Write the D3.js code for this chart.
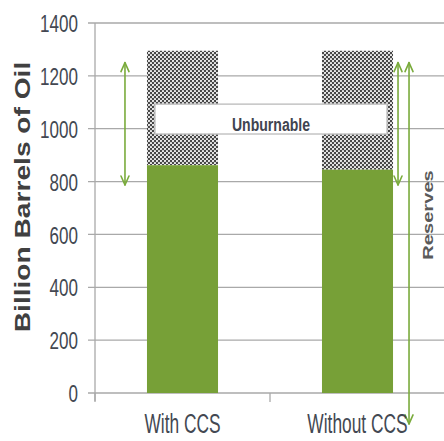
<!DOCTYPE html>
<html>
<head>
<meta charset="utf-8">
<script src="https://cdn.jsdelivr.net/npm/d3@7"></script>
<style>
  html, body { margin: 0; padding: 0; background: #fff; }
  svg { display: block; }
  text { font-family: "Liberation Sans", Arial, sans-serif; }
</style>
</head>
<body>
<svg id="chart" width="444" height="441"></svg>
<script>
// Oil reserves: burnable share vs unburnable share (billion barrels)
const categories = ["With CCS", "Without CCS"];
const burnable = [862, 845];
const totalReserves = [1295, 1295];
const yTicks = [0, 200, 400, 600, 800, 1000, 1200, 1400];
const yTitle = "Billion Barrels of Oil";
const boxLabel = "Unburnable";
const boxRange = [980, 1093];          // value span covered by the label box
const unburnableArrow = [787, 1250];   // left and right double arrows
const reservesArrow = [-117, 1250];    // long double arrow for total reserves
const reservesLabel = "Reserves";

const svg = d3.select("#chart");
const W = 444;
const plot = { left: 95, right: 445, top: 23, bottom: 393 };

const y = d3.scaleLinear().domain([0, 1400]).range([plot.bottom, plot.top]);
const x = d3.scaleBand().domain(categories)
  .range([plot.left, plot.right])
  .paddingInner(0.594).paddingOuter(0.297);

const GREEN = "#77a037";
const ARROW = "#7aab3c";
const GRID = "#a9a9a9";
const TEXT = "#434852";

// Dotted fill for the unburnable portion
const defs = svg.append("defs");
const pat = defs.append("pattern").attr("id", "dots")
  .attr("width", 4).attr("height", 4).attr("patternUnits", "userSpaceOnUse");
pat.append("rect").attr("width", 4).attr("height", 4).attr("fill", "#464646");
pat.append("circle").attr("cx", 1).attr("cy", 1).attr("r", 1.1).attr("fill", "#f4f4f4");
pat.append("circle").attr("cx", 3).attr("cy", 3).attr("r", 1.1).attr("fill", "#f4f4f4");

// Gridlines (drawn from the left tick stub out to the edge)
svg.append("g").selectAll("line").data(yTicks).join("line")
  .attr("x1", plot.left - 7).attr("x2", W)
  .attr("y1", d => y(d)).attr("y2", d => y(d))
  .attr("stroke", GRID).attr("stroke-width", 1.3);

// Y axis line
svg.append("line")
  .attr("x1", plot.left).attr("x2", plot.left)
  .attr("y1", y(1400)).attr("y2", y(0) + 8)
  .attr("stroke", GRID).attr("stroke-width", 1.3);

// Category separator ticks below the baseline
const step = x.step();
svg.append("g").selectAll("line").data(d3.range(categories.length + 1)).join("line")
  .attr("x1", i => plot.left + i * step).attr("x2", i => plot.left + i * step)
  .attr("y1", y(0)).attr("y2", y(0) + 9)
  .attr("stroke", GRID).attr("stroke-width", 1.3);

// Y tick labels via axis
const yAxis = svg.append("g")
  .attr("transform", `translate(${plot.left},0)`)
  .call(d3.axisLeft(y).tickValues(yTicks).tickSize(0).tickFormat(d3.format("d")));
yAxis.select(".domain").remove();
yAxis.selectAll("text")
  .attr("x", 0)
  .attr("dy", "0.35em")
  .attr("transform", "translate(-17,0) scale(0.69,1)")
  .attr("font-family", "'Liberation Sans', Arial, sans-serif")
  .attr("font-size", 24.7)
  .attr("fill", TEXT);

// Bars: burnable (green) and unburnable (dotted)
const bars = svg.append("g");
bars.selectAll("rect.unburn").data(categories).join("rect")
  .attr("class", "unburn")
  .attr("x", d => x(d)).attr("width", x.bandwidth())
  .attr("y", (d, i) => y(totalReserves[i]))
  .attr("height", (d, i) => y(burnable[i]) - y(totalReserves[i]))
  .attr("fill", "url(#dots)");
bars.selectAll("rect.burn").data(categories).join("rect")
  .attr("class", "burn")
  .attr("x", d => x(d)).attr("width", x.bandwidth())
  .attr("y", (d, i) => y(burnable[i]))
  .attr("height", (d, i) => y(0) - y(burnable[i]))
  .attr("fill", GREEN);

// Label box spanning both bars
const bx0 = x(categories[0]) + 8;
const bx1 = x(categories[1]) + x.bandwidth() - 6;
svg.append("rect")
  .attr("x", bx0).attr("width", bx1 - bx0)
  .attr("y", y(boxRange[1])).attr("height", y(boxRange[0]) - y(boxRange[1]))
  .attr("fill", "#fff").attr("stroke", "#c4c4c4").attr("stroke-width", 1.5);
svg.append("text")
  .attr("transform", `translate(${(bx0 + bx1) / 2},${y(boxRange[0]) - 3}) scale(0.76,1)`)
  .attr("text-anchor", "middle")
  .attr("font-size", 18.5).attr("font-weight", "bold")
  .attr("fill", "#3f4450")
  .text(boxLabel);

// Double-headed arrows
function doubleArrow(xPos, v0, v1) {
  const g = svg.append("g").attr("stroke", ARROW).attr("stroke-width", 1.6)
    .attr("fill", "none").attr("stroke-linecap", "round").attr("stroke-linejoin", "round");
  const yt = y(v1), yb = y(v0);
  g.append("line").attr("x1", xPos).attr("x2", xPos).attr("y1", yt).attr("y2", yb);
  g.append("polyline").attr("points", [[xPos - 4, yt + 9], [xPos, yt], [xPos + 4, yt + 9]].join(" "));
  g.append("polyline").attr("points", [[xPos - 4, yb - 9], [xPos, yb], [xPos + 4, yb - 9]].join(" "));
}
doubleArrow(x(categories[0]) - 22, unburnableArrow[0], unburnableArrow[1]);
doubleArrow(x(categories[1]) + x.bandwidth() + 5, unburnableArrow[0], unburnableArrow[1]);
doubleArrow(x(categories[1]) + x.bandwidth() + 16, reservesArrow[0], reservesArrow[1]);

// Category labels
svg.append("g").selectAll("text").data(categories).join("text")
  .attr("transform", d => `translate(${x(d) + x.bandwidth() / 2},433) scale(0.62,1)`)
  .attr("text-anchor", "middle")
  .attr("font-size", 28)
  .attr("fill", TEXT)
  .text(d => d);

// Axis title
svg.append("text")
  .attr("transform", "translate(30,197) rotate(-90) scale(1.28,1)")
  .attr("text-anchor", "middle")
  .attr("font-size", 22).attr("font-weight", "bold")
  .attr("fill", "#404040")
  .text(yTitle);

// Reserves label
svg.append("text")
  .attr("transform", "translate(433,215) rotate(-90) scale(1.44,1)")
  .attr("text-anchor", "middle")
  .attr("font-size", 14).attr("font-weight", "bold")
  .attr("fill", "#5a5a5a")
  .text(reservesLabel);
</script>
</body>
</html>
